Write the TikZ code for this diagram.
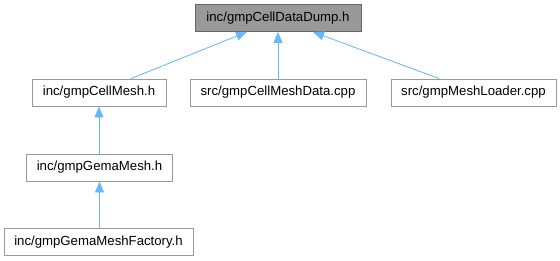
\documentclass[tikz,border=0pt]{standalone}
\usepackage{fontspec}
\setmainfont{Liberation Sans}
\usetikzlibrary{arrows.meta,positioning,calc}
\definecolor{edgeblue}{HTML}{63B8FF}
\definecolor{rootfill}{HTML}{999999}
\definecolor{rootline}{HTML}{666666}
\definecolor{boxline}{HTML}{999999}
\begin{document}
\begin{tikzpicture}[x=1pt,y=-1pt,>={Triangle[length=11pt,width=9pt]},
 font=\fontsize{13.2}{15}\selectfont,
 box/.style={draw=boxline,fill=#1,line width=.9pt,minimum height=27pt,inner xsep=10pt,inner ysep=0pt},
 box/.default=white,
 edge/.style={->,draw=edgeblue,fill=edgeblue,line width=.8pt}]
\useasboundingbox (0,0) rectangle (560,261);
\node[box=rootfill,draw=rootline,minimum width=166pt] (dump) at (278,18) {inc/gmpCellDataDump.h};
\node[box,minimum width=134pt] (cellmesh) at (99,92.5) {inc/gmpCellMesh.h};
\node[box,minimum width=176pt] (meshdata) at (278,92.5) {src/gmpCellMeshData.cpp};
\node[box,minimum width=165pt] (loader) at (473.5,92.5) {src/gmpMeshLoader.cpp};
\node[box,minimum width=145pt] (gema) at (99.5,167.5) {inc/gmpGemaMesh.h};
\node[box,minimum width=189pt] (factory) at (98.5,242) {inc/gmpGemaMeshFactory.h};
\draw[edge] ([xshift=32pt]cellmesh.north) -- ([xshift=-31pt]dump.south);
\draw[edge] (meshdata) -- (dump);
\draw[edge] ([xshift=-34.5pt]loader.north) -- ([xshift=35pt]dump.south);
\draw[edge] (gema.north -| cellmesh.south) -- (cellmesh.south);
\draw[edge] (factory.north -| gema.south) -- (gema.south);
\end{tikzpicture}
\end{document}
